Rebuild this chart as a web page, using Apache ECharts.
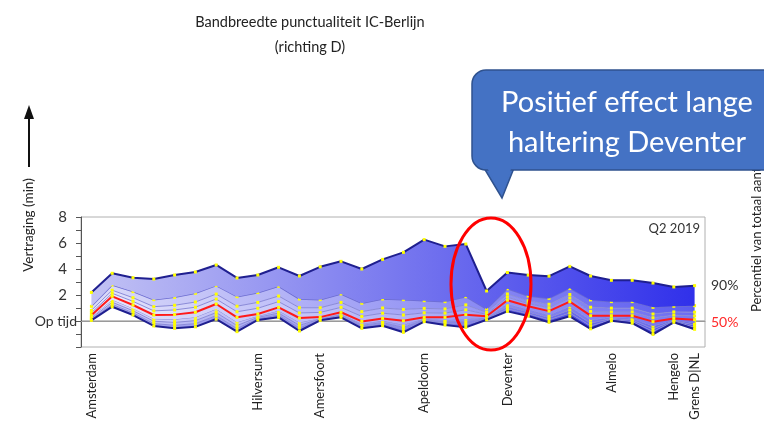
<!DOCTYPE html>
<html>
	<head>
		<meta charset="utf-8">
		<title></title>
		<script src="https://cdn.jsdelivr.net/npm/echarts@6/dist/echarts.min.js"></script>
	</head>
	<body style="margin:0;background:#fff">
		<div id="main" style="width: 764px; height: 423px;"></div>
		<script type="text/javascript">
			// stations along the route (only a few are labelled)
			var stations = ['Amsterdam','','','','','','','','Hilversum','','','Amersfoort','','','','','Apeldoorn','','','','Deventer','','','','','Almelo','','','Hengelo','Grens D|NL'];
			var yTicks = [-2, -1, 0, 1, 2, 3, 4, 5, 6, 7, 8];

			// delay percentiles in minutes
			var p10 = [0.05,1.1,0.46,-0.38,-0.56,-0.45,0.15,-0.82,0.08,0.28,-0.77,0.05,0.28,-0.56,-0.36,-0.87,-0.05,-0.31,-0.49,0.1,0.74,0.38,-0.1,0.36,-0.6,0.02,-0.17,-1.03,-0.1,-0.64];
			var p20 = [0.14,1.28,0.63,-0.2,-0.33,-0.2,0.41,-0.58,0.18,0.45,-0.55,0.1,0.37,-0.44,-0.24,-0.67,0.02,-0.18,-0.27,0.16,0.93,0.55,0.09,0.61,-0.38,0.11,-0.04,-0.81,-0.03,-0.48];
			var p30 = [0.22,1.44,0.79,-0.02,-0.11,0.03,0.65,-0.35,0.28,0.61,-0.34,0.16,0.45,-0.33,-0.12,-0.49,0.09,-0.06,-0.07,0.21,1.11,0.7,0.27,0.85,-0.17,0.19,0.08,-0.61,0.03,-0.32];
			var p40 = [0.31,1.63,0.97,0.17,0.13,0.29,0.92,-0.09,0.38,0.79,-0.11,0.22,0.54,-0.21,0.01,-0.28,0.17,0.08,0.16,0.27,1.31,0.88,0.47,1.11,0.07,0.28,0.21,-0.38,0.1,-0.15];
			var p50 = [0.45,1.9,1.23,0.46,0.49,0.67,1.31,0.28,0.54,1.05,0.23,0.3,0.67,-0.03,0.2,0.02,0.28,0.28,0.49,0.36,1.6,1.13,0.76,1.49,0.41,0.41,0.41,-0.05,0.2,0.1];
			var p60 = [0.63,2.13,1.51,0.78,0.85,1.06,1.69,0.71,0.98,1.49,0.62,0.66,1.05,0.35,0.6,0.46,0.63,0.61,0.86,0.51,1.84,1.34,1.02,1.77,0.74,0.7,0.7,0.25,0.45,0.39];
			var p70 = [0.82,2.37,1.79,1.1,1.21,1.46,2.07,1.14,1.43,1.92,1.02,1.02,1.43,0.72,1.0,0.89,0.97,0.93,1.24,0.66,2.08,1.56,1.29,2.04,1.06,0.99,0.99,0.54,0.7,0.68];
			var p80 = [1.13,2.77,2.26,1.64,1.82,2.13,2.72,1.87,2.18,2.67,1.69,1.64,2.08,1.36,1.69,1.64,1.56,1.49,1.87,0.92,2.48,1.92,1.74,2.51,1.62,1.49,1.49,1.05,1.13,1.18];
			var p90 = [2.2,3.67,3.33,3.23,3.54,3.77,4.31,3.31,3.54,4.13,3.46,4.17,4.59,4.0,4.74,5.28,6.26,5.74,5.92,2.31,3.73,3.53,3.45,4.2,3.46,3.13,3.13,2.92,2.62,2.72];

			var levels = [p10, p20, p30, p40, p50, p60, p70, p80, p90];
			// band fill: light on the left, deeper blue to the right
			var bandColors = [
				['#b4b4f2', '#3a3ae2'],
				['#cdcdf6', '#5050ea'],
				['#dcdcf9', '#6262ee'],
				['#e8e8fb', '#7070f0'],
				['#eeeefc', '#7878f2'],
				['#e6e6fb', '#6c6cf2'],
				['#dcdcf9', '#5c5cf0'],
				['#c2c2f4', '#3030ea']
			];
			var lineStyles = [
				{ color: '#1f1f8f', width: 2 },
				{ color: '#8a8ad8', width: 1 },
				{ color: '#8a8ad8', width: 1 },
				{ color: '#8a8ad8', width: 1 },
				{ color: '#ff1a1a', width: 2 },
				{ color: '#8a8ad8', width: 1 },
				{ color: '#8a8ad8', width: 1 },
				{ color: '#6c6cd0', width: 1.5 },
				{ color: '#1f1f8f', width: 2 }
			];

			var series = [];
			for (var k = 0; k < levels.length; k++) {
				var vals = levels[k].map(function (v, i) {
					return k == 0 ? v : +(v - levels[k - 1][i]).toFixed(3);
				});
				var s = {
					type: 'line',
					stack: 'band',
					stackStrategy: 'all',
					data: vals,
					symbol: 'rect',
					symbolSize: 3,
					showAllSymbol: true,
					itemStyle: { color: '#ffff00' },
					lineStyle: lineStyles[k],
					z: (k == 0 || k == 4 || k == 8) ? 4 : 2
				};
				if (k > 0) {
					s.areaStyle = {
						opacity: 1,
						color: new echarts.graphic.LinearGradient(0, 0, 1, 0, [
							{ offset: 0, color: bandColors[k - 1][0] },
							{ offset: 1, color: bandColors[k - 1][1] }
						])
					};
				}
				series.push(s);
			}

			var splitColors = yTicks.map(function (v) { return v == 0 ? '#b0b0b0' : 'rgba(0,0,0,0)'; });

			var myCharts = echarts.init(document.getElementById('main'));
			var option = {
				animation: false,
				backgroundColor: '#fff',
				textStyle: { fontFamily: 'Lato' },
				grid: { left: 81, right: 59, top: 217, bottom: 76, show: true, borderColor: '#b0b0b0', borderWidth: 1 },
				xAxis: {
					type: 'category',
					data: stations,
					boundaryGap: true,
					axisLine: { lineStyle: { color: '#9a9a9a' } },
					axisTick: { alignWithLabel: true, interval: 0, length: 4, lineStyle: { color: '#777' } },
					axisLabel: { interval: 0, rotate: 90, fontSize: 13, color: '#222', margin: 6 }
				},
				yAxis: {
					type: 'value',
					min: -2,
					max: 8,
					interval: 1,
					axisLine: { show: true, lineStyle: { color: '#555' } },
					axisTick: { show: true, length: 5, lineStyle: { color: '#555' } },
					axisLabel: {
						fontSize: 14,
						color: '#333',
						margin: 4,
						formatter: function (v) {
							if (v == 0) return 'Op tijd';
							return (v >= 2 && v % 2 == 0) ? '{n|' + v + '}' : '';
						},
						rich: { n: { fontSize: 15, color: '#333', padding: [0, 10, 0, 0] } }
					},
					splitLine: { show: true, lineStyle: { color: splitColors, width: 1.5 } }
				},
				series: series,
				graphic: [
					{ type: 'text', x: 310, y: 22, style: { text: 'Bandbreedte punctualiteit IC-Berlijn', font: '14.5px Lato', fill: '#222', align: 'center', verticalAlign: 'middle' } },
					{ type: 'text', x: 310, y: 47, style: { text: '(richting D)', font: '14.5px Lato', fill: '#222', align: 'center', verticalAlign: 'middle' } },
					{ type: 'text', x: 29, y: 225, rotation: Math.PI / 2, style: { text: 'Vertraging (min)', font: '13.5px Lato', fill: '#222', align: 'center', verticalAlign: 'middle' } },
					{ type: 'line', shape: { x1: 29, y1: 167, x2: 29, y2: 118 }, style: { stroke: '#111', lineWidth: 2 } },
					{ type: 'polygon', shape: { points: [[29, 105], [24, 119], [34, 119]] }, style: { fill: '#111' } },
					{ type: 'text', x: 700, y: 229, style: { text: 'Q2 2019', font: '13px Lato', fill: '#333', align: 'right', verticalAlign: 'middle' }, z: 10 },
					{ type: 'text', x: 711, y: 285, style: { text: '90%', font: '14px Lato', fill: '#333', verticalAlign: 'middle' } },
					{ type: 'text', x: 711, y: 322, style: { text: '50%', font: '14px Lato', fill: '#ff2a2a', verticalAlign: 'middle' } },
					{ type: 'text', x: 757, y: 312, rotation: Math.PI / 2, style: { text: 'Percentiel van totaal aantal treinen', font: '13px Lato', fill: '#222', align: 'left', verticalAlign: 'middle' } },
					{ type: 'ellipse', shape: { cx: 491, cy: 284, rx: 40, ry: 66 }, style: { fill: 'none', stroke: '#ff0000', lineWidth: 3 }, z: 20 },
					{ type: 'polygon', shape: { points: [[484, 168], [514, 168], [502, 198]] }, style: { fill: '#4472c4', stroke: '#2f528f', lineWidth: 1.5 }, z: 30 },
					{ type: 'rect', shape: { x: 472, y: 70, width: 310, height: 100, r: 14 }, style: { fill: '#4472c4', stroke: '#2f528f', lineWidth: 1.5 }, z: 31 },
					{ type: 'polygon', shape: { points: [[486, 166], [512, 166], [502, 194]] }, style: { fill: '#4472c4' }, z: 32 },
					{ type: 'text', x: 627, y: 103, style: { text: 'Positief effect lange', font: '29px Lato', fill: '#fff', align: 'center', verticalAlign: 'middle' }, z: 33 },
					{ type: 'text', x: 627, y: 143, style: { text: 'haltering Deventer', font: '29px Lato', fill: '#fff', align: 'center', verticalAlign: 'middle' }, z: 33 }
				]
			};
			myCharts.setOption(option);
		</script>
	</body>
</html>
